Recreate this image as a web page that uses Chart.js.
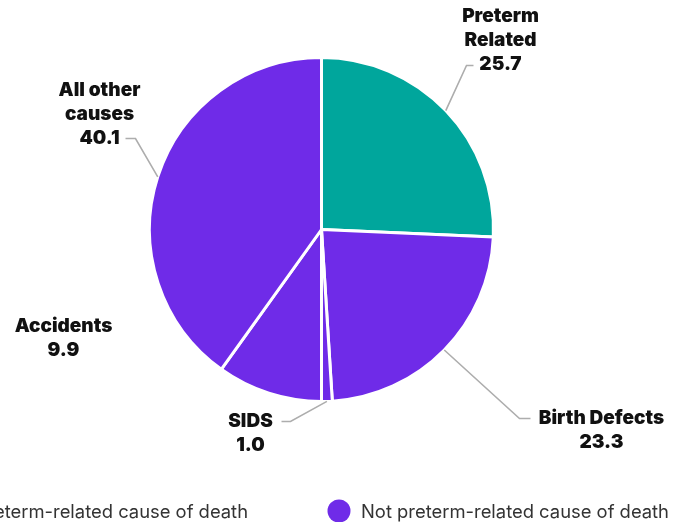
<!DOCTYPE html>
<html>
<head>
<meta charset="utf-8">
<script src="https://cdn.jsdelivr.net/npm/chart.js@4.4.0/dist/chart.umd.min.js"></script>
<style>
  html, body { margin: 0; padding: 0; background: #fff; }
  #wrap { width: 681px; height: 522px; }
</style>
</head>
<body>
<div id="wrap"><canvas id="mychart" width="681" height="522"></canvas></div>
<script>
// causes of infant death (per cent)
var causes = ['Preterm Related', 'Birth Defects', 'SIDS', 'Accidents', 'All other causes']
var causeLines = [['Preterm', 'Related'], ['Birth Defects'], ['SIDS'], ['Accidents'], ['All other', 'causes']]
var shares = [25.7, 23.3, 1.0, 9.9, 40.1]
var isPreterm = [true, false, false, false, false]
var legendLabels = ['Preterm-related cause of death', 'Not preterm-related cause of death']

var TEAL = '#00A69C'
var PURPLE = '#6F2BE8'
var legendColors = [TEAL, PURPLE]

// where each label sits, relative to the pie centre
var labelSpots = [
    { x: 179, y: -213, elbow: [145, -164], end: [152, -164] },
    { x: 280, y: 189, elbow: [198, 189], end: [209, 189] },
    { x: -71, y: 192, elbow: [-31, 192], end: [-40, 192] },
    { x: -258, y: 97 },
    { x: -222, y: -139, elbow: [-186, -91], end: [-196, -91] }
]

var labelPlugin = {
    id: 'labels',
    afterDraw(chart) {
        var c = chart.ctx
        var meta = chart.getDatasetMeta(0)
        var cx = meta.data[0].x
        var cy = meta.data[0].y
        c.save()
        c.font = '900 19px Inter'
        c.textAlign = 'center'
        c.textBaseline = 'middle'
        meta.data.forEach((arc, i) => {
            var spot = labelSpots[i]
            var lines = causeLines[i].concat([shares[i].toFixed(1)])
            if (spot.elbow) {
                var mid = (arc.startAngle + arc.endAngle) / 2
                var r = arc.outerRadius
                c.strokeStyle = '#ADADAD'
                c.lineWidth = 1.6
                c.beginPath()
                c.moveTo(cx + Math.cos(mid) * r, cy + Math.sin(mid) * r)
                c.lineTo(cx + spot.elbow[0], cy + spot.elbow[1])
                c.lineTo(cx + spot.end[0], cy + spot.end[1])
                c.stroke()
            }
            c.fillStyle = '#111'
            lines.forEach((t, k) => {
                c.fillText(t, cx + spot.x, cy + spot.y + k * 24)
            })
        })
        // legend, the first item runs off the left edge like in the source
        c.font = '18.4px Inter'
        c.textAlign = 'left'
        var y = 511
        var x2 = 361
        var x1 = 248 - c.measureText(legendLabels[0]).width
        ;[x1, x2].forEach((x, k) => {
            c.fillStyle = legendColors[k]
            c.beginPath()
            c.arc(x - 22, y, 11.5, 0, Math.PI * 2)
            c.fill()
            c.fillStyle = '#333'
            c.fillText(legendLabels[k], x, y + 1)
        })
        c.restore()
    }
}

var ctx = document.getElementById('mychart').getContext('2d')
var piechart = new Chart(ctx, {
    type: 'pie',
    data: {
        labels: causes,
        datasets: [{
            data: shares,
            backgroundColor: isPreterm.map(p => p ? TEAL : PURPLE),
            borderColor: '#FFFFFF',
            borderWidth: 3
        }]
    },
    options: {
        responsive: false,
        animation: false,
        layout: { padding: { top: 56, bottom: 119, left: 148, right: 186 } },
        plugins: {
            legend: { display: false },
            tooltip: { enabled: false }
        }
    },
    plugins: [labelPlugin]
})
</script>
</body>
</html>
